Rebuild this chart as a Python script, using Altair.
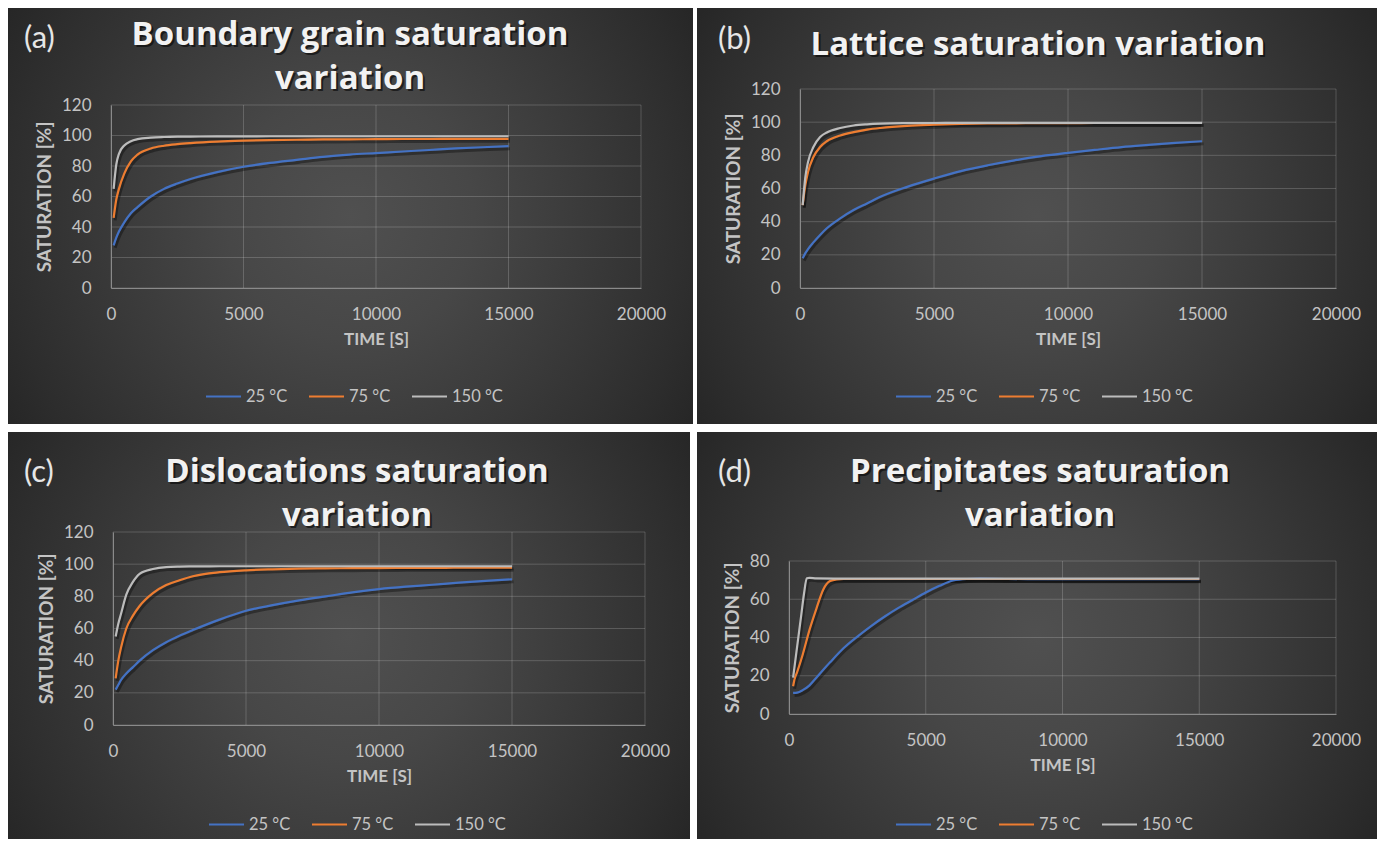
import altair as alt
import pandas as pd

SERIES = ["25 °C", "75 °C", "150 °C"]
COLORS = ["#4472c4", "#ed7d31", "#bcbcbc"]
X_TICKS = [0, 5000, 10000, 15000, 20000]
Y_TICKS_120 = [0, 20, 40, 60, 80, 100, 120]
Y_TICKS_80 = [0, 20, 40, 60, 80]

# shared time grid for panels a-c (seconds)
T_ABC = [100, 200, 300, 500, 750, 1000, 1500, 2000, 2500, 3000, 4000, 5000,
         6000, 7000, 8000, 9000, 10000, 11000, 12000, 13000, 14000, 15000]

# (a) Boundary grain
a_25 = [28, 33, 37, 43, 49, 53, 60, 65, 68.5, 71.5, 76, 79.5, 82, 84, 86, 87.5,
        88.5, 89.5, 90.5, 91.5, 92.3, 93]
a_75 = [46, 58, 65, 75, 83, 87.5, 91.5, 93.3, 94.3, 95, 96, 96.6, 97, 97.2, 97.4,
        97.5, 97.6, 97.7, 97.7, 97.8, 97.8, 97.8]
a_150 = [65, 81, 88, 93.5, 96.3, 97.6, 98.6, 99.0, 99.2, 99.3, 99.4, 99.4, 99.5,
         99.5, 99.5, 99.5, 99.5, 99.5, 99.5, 99.5, 99.5, 99.5]

# (b) Lattice
b_25 = [18, 21, 23.5, 27.5, 32, 36, 42, 47, 51, 55, 61, 66, 70.5, 74, 77, 79.5,
        81.5, 83.3, 85, 86.3, 87.5, 88.5]
b_75 = [50, 62, 70, 79, 85, 88.5, 92, 94, 95.5, 96.5, 97.8, 98.5, 99, 99.2, 99.3,
        99.4, 99.4, 99.5, 99.5, 99.5, 99.5, 99.5]
b_150 = [50, 67, 76, 85, 91, 93.8, 96.5, 98.0, 98.7, 99.1, 99.4, 99.5, 99.6, 99.6,
         99.6, 99.6, 99.6, 99.6, 99.6, 99.6, 99.6, 99.6]

# (c) Dislocations
c_25 = [22, 25, 28, 32, 36, 40, 46.5, 51.5, 55.5, 59, 65.5, 71, 74.5, 77.5, 80,
        82.5, 84.5, 86, 87.2, 88.5, 89.6, 90.6]
c_75 = [29, 40, 48, 60, 68, 74, 82, 87, 90, 92.5, 95, 96.2, 96.8, 97.2, 97.4, 97.5,
        97.6, 97.7, 97.7, 97.8, 97.8, 97.8]
c_150 = [55, 63, 69, 81, 89, 94, 97, 98.2, 98.5, 98.6, 98.7, 98.7, 98.7, 98.7,
         98.7, 98.7, 98.7, 98.7, 98.7, 98.7, 98.7, 98.7]

# (d) Precipitates (own time grids)
d_t_25 = [150, 300, 500, 750, 1000, 1500, 2000, 2500, 3000, 3500, 4000, 4500, 5000,
          5500, 6000, 6500, 7000, 8000, 10000, 12000, 15000]
d_25 = [11, 11.2, 12.5, 15, 19, 27, 34.5, 40.5, 46, 51, 55.5, 59.5, 63.5, 67, 69.8,
        70.6, 70.8, 70.6, 70.5, 70.5, 70.5]
d_t_75 = [150, 200, 300, 500, 750, 1000, 1250, 1500, 1750, 2000, 3000, 5000, 10000, 15000]
d_75 = [14.5, 18, 22, 31, 44, 55, 65, 69.5, 70.4, 70.6, 70.6, 70.6, 70.6, 70.6]
d_t_150 = [150, 250, 350, 450, 550, 650, 750, 1000, 2000, 5000, 10000, 15000]
d_150 = [19, 30, 41, 52, 63, 71, 71.2, 70.9, 70.8, 70.8, 70.8, 70.8]

TITLES = ["Boundary grain saturation\nvariation", "Lattice saturation variation",
          "Dislocations saturation\nvariation", "Precipitates saturation\nvariation"]
LABELS = ["(a)", "(b)", "(c)", "(d)"]


def frame(series_list):
    rows = []
    for name, ts, vs in series_list:
        for t, v in zip(ts, vs):
            rows.append({"t": t, "s": v, "series": name})
    return pd.DataFrame(rows)


GRAD = {
    "gradient": "radial",
    "x1": 0.5, "y1": 0.5, "r1": 0,
    "x2": 0.5, "y2": 0.5, "r2": 0.6,
    "stops": [
        {"offset": 0.0, "color": "#505050"},
        {"offset": 0.3, "color": "#474747"},
        {"offset": 0.6, "color": "#393939"},
        {"offset": 0.85, "color": "#2d2d2d"},
        {"offset": 1.0, "color": "#252525"},
    ],
}

TXT = "#c4c4c4"


def panel(df, label, title, PW, PH, L, W, T, H, yticks, tx, ty, lx, ly, gx, gy):
    B = PH - T - H
    ymax = yticks[-1]
    xs = alt.Scale(domain=[0, 20000], nice=False, range=[L, L + W])
    ys = alt.Scale(domain=[0, ymax], nice=False, range=[T + H, T])
    one = pd.DataFrame({"k": [0]})

    xaxis = alt.Axis(values=X_TICKS, grid=False, ticks=False, domainColor="#8a8a8a",
                     labelColor=TXT, labelFont="Lato", labelFontSize=17, labelPadding=18,
                     labelFlush=False, labelOverlap=False, format="d", offset=-B,
                     title="TIME [S]", titleFont="Lato", titleFontSize=17,
                     titleFontWeight="bold", titleColor=TXT, titlePadding=9, zindex=1)
    yaxis = alt.Axis(values=yticks, grid=False, ticks=False, domainColor="#8a8a8a",
                     labelColor=TXT, labelFont="Lato", labelFontSize=17, labelPadding=20,
                     labelFlush=False, labelOverlap=False, offset=-L,
                     title="SATURATION [%]", titleFont="Lato", titleFontSize=19,
                     titleFontWeight="bold", titleColor=TXT, titlePadding=7, zindex=1)

    bg = alt.Chart(one).mark_rect(fill=GRAD, stroke=None).encode(
        x=alt.value(0), x2=alt.value(PW), y=alt.value(0), y2=alt.value(PH))

    xgrid = alt.Chart(pd.DataFrame({"t": X_TICKS})).mark_rule(
        color="#ffffff", opacity=0.18, strokeWidth=1).encode(
        x=alt.X("t:Q", scale=xs, axis=xaxis, title="TIME [S]"),
        y=alt.value(T), y2=alt.value(T + H))
    ygrid = alt.Chart(pd.DataFrame({"s": yticks})).mark_rule(
        color="#ffffff", opacity=0.18, strokeWidth=1).encode(
        y=alt.Y("s:Q", scale=ys, axis=yaxis, title="SATURATION [%]"),
        x=alt.value(L), x2=alt.value(L + W))

    shadow = alt.Chart(df).mark_line(interpolate="monotone", strokeWidth=3, color="#000000",
                                     opacity=0.35, xOffset=1.5, yOffset=2.5).encode(
        x=alt.X("t:Q", scale=xs, axis=xaxis, title="TIME [S]"),
        y=alt.Y("s:Q", scale=ys, axis=yaxis, title="SATURATION [%]"),
        detail="series:N")

    lines = alt.Chart(df).mark_line(interpolate="monotone", strokeWidth=2.2).encode(
        x=alt.X("t:Q", scale=xs, axis=xaxis, title="TIME [S]"),
        y=alt.Y("s:Q", scale=ys, axis=yaxis, title="SATURATION [%]"),
        color=alt.Color("series:N", sort=SERIES,
                        scale=alt.Scale(domain=SERIES, range=COLORS),
                        legend=alt.Legend(orient="none", legendX=gx, legendY=gy,
                                          direction="horizontal", title=None,
                                          symbolType="stroke", symbolSize=1225,
                                          symbolStrokeWidth=2, labelFont="Lato",
                                          labelFontSize=16.5, labelColor=TXT,
                                          labelOffset=4, columnPadding=17)))

    tdf = pd.DataFrame({"txt": [title]})
    tsh = alt.Chart(tdf).mark_text(font="Open Sans", fontWeight="bold", fontSize=33,
                                   color="#000000", opacity=0.55, align="center",
                                   baseline="alphabetic", lineBreak="\n", lineHeight=44,
                                   dx=2, dy=2).encode(
        x=alt.value(tx), y=alt.value(ty), text="txt:N")
    ttl = alt.Chart(tdf).mark_text(font="Open Sans", fontWeight="bold", fontSize=33,
                                   color="#f2f2f2", align="center",
                                   baseline="alphabetic", lineBreak="\n", lineHeight=44).encode(
        x=alt.value(tx), y=alt.value(ty), text="txt:N")
    lab = alt.Chart(pd.DataFrame({"txt": [label]})).mark_text(
        font="Lato", fontSize=31, color="#e6e6e6", align="left", baseline="alphabetic").encode(
        x=alt.value(lx), y=alt.value(ly), text="txt:N")

    return alt.layer(bg, xgrid, ygrid, shadow, lines, tsh, ttl, lab).properties(
        width=PW, height=PH)


df_a = frame([(SERIES[0], T_ABC, a_25), (SERIES[1], T_ABC, a_75), (SERIES[2], T_ABC, a_150)])
df_b = frame([(SERIES[0], T_ABC, b_25), (SERIES[1], T_ABC, b_75), (SERIES[2], T_ABC, b_150)])
df_c = frame([(SERIES[0], T_ABC, c_25), (SERIES[1], T_ABC, c_75), (SERIES[2], T_ABC, c_150)])
df_d = frame([(SERIES[0], d_t_25, d_25), (SERIES[1], d_t_75, d_75), (SERIES[2], d_t_150, d_150)])

pa = panel(df_a, LABELS[0], TITLES[0], 685, 416, 103, 530, 97, 183, Y_TICKS_120,
           342, 37, 16, 40, 197, 370)
pb = panel(df_b, LABELS[1], TITLES[1], 680, 416, 103, 536, 81, 199, Y_TICKS_120,
           341, 47, 21, 41, 198, 370)
pc = panel(df_c, LABELS[2], TITLES[2], 682, 407, 105, 532, 100, 193, Y_TICKS_120,
           349, 50, 16, 50, 200, 374)
pd_ = panel(df_d, LABELS[3], TITLES[3], 680, 407, 92, 547, 129, 153, Y_TICKS_80,
            343, 50, 21, 50, 198, 374)

row1 = alt.hconcat(pa, pb, spacing=4).resolve_scale(color="independent").resolve_legend(color="independent")
row2 = alt.hconcat(pc, pd_, spacing=7).resolve_scale(color="independent").resolve_legend(color="independent")

chart = alt.vconcat(row1, row2, spacing=8).resolve_scale(
    color="independent").resolve_legend(color="independent").properties(
    padding=0, background="white").configure_view(stroke=None)

chart.save("out.html", embed_options={"renderer": "svg", "actions": False})
